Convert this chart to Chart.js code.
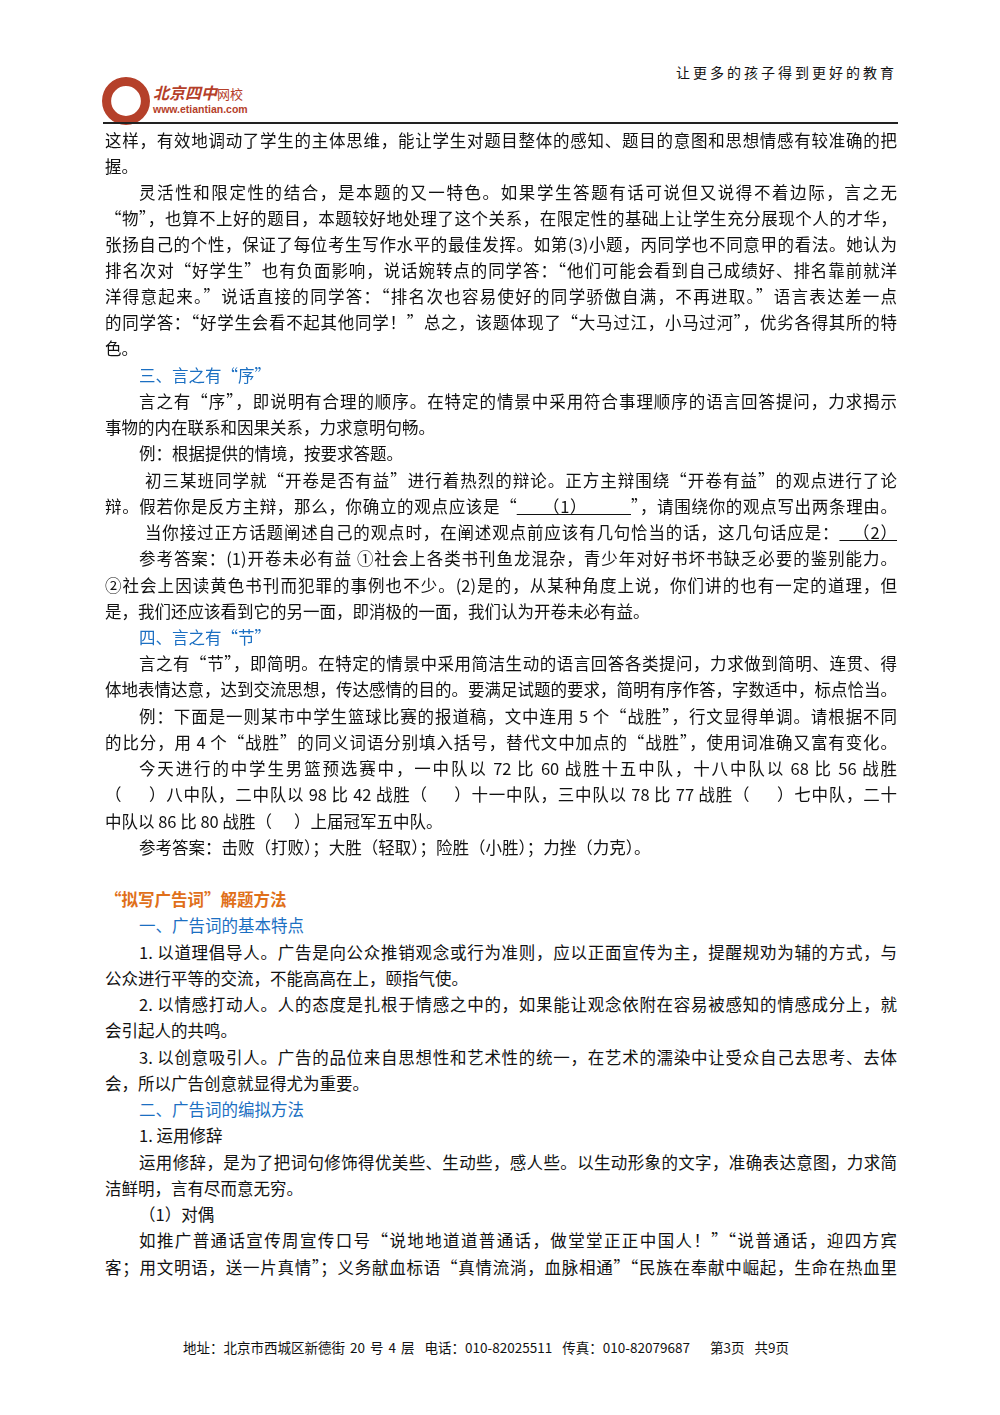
<!DOCTYPE html>
<html><head><meta charset="utf-8">
<script src="https://cdn.jsdelivr.net/npm/chart.js@4"></script>
<style>
body{margin:0;background:#fff;width:1000px;height:1415px;position:relative;font-family:"Noto Sans CJK SC",sans-serif;color:#111;}
.l{position:absolute;left:105px;width:792px;font-size:16.5px;line-height:20px;white-space:nowrap;}
.j{text-align:justify;text-align-last:justify;}
.b{color:#1b6fc2;}
.r{color:#e0701a;font-weight:bold;}
#logo{position:absolute;left:102px;top:77px;width:48px;height:48px;}
</style></head><body>
<div style="position:absolute;right:103px;top:62px;font-size:14px;letter-spacing:3px;">让更多的孩子得到更好的教育</div>
<div id="logo"><canvas id="c"></canvas></div>
<div style="position:absolute;left:153px;top:84px;line-height:16px;color:#b5402a;font-size:16px;font-weight:bold;font-style:italic;">北京四中<span style="font-size:13px;font-weight:normal;font-style:normal">网校</span></div>
<div style="position:absolute;left:153px;top:104px;line-height:11px;color:#b5402a;font-size:10.5px;font-weight:bold;font-family:'Liberation Sans'">www.etiantian.com</div>
<div style="position:absolute;left:103px;top:122px;width:795px;border-top:2px solid #222;"></div>
<div id="body"></div>
<div style="position:absolute;left:183px;top:1337px;font-size:13.5px;word-spacing:2px;">地址：北京市西城区新德街 20 号 4 层 &nbsp;电话：010-82025511 &nbsp;传真：010-82079687 &nbsp;&nbsp;&nbsp;第3页 &nbsp;共9页</div>
<script>
// logo ring segments
const logoParts = ['ring'];
const logoValues = [1];
const logoColors = ['#b5402a'];

// [text, class, top, indent]
const lines = [
 ['这样，有效地调动了学生的主体思维，能让学生对题目整体的感知、题目的意图和思想情感有较准确的把','j',130,0],
 ['握。','',156,0],
 ['灵活性和限定性的结合，是本题的又一特色。如果学生答题有话可说但又说得不着边际，言之无','j',182,34],
 ['“物”，也算不上好的题目，本题较好地处理了这个关系，在限定性的基础上让学生充分展现个人的才华，','j',208,0],
 ['张扬自己的个性，保证了每位考生写作水平的最佳发挥。如第(3)小题，丙同学也不同意甲的看法。她认为','j',234,0],
 ['排名次对“好学生”也有负面影响，说话婉转点的同学答：“他们可能会看到自己成绩好、排名靠前就洋','j',260,0],
 ['洋得意起来。”说话直接的同学答：“排名次也容易使好的同学骄傲自满，不再进取。”语言表达差一点','j',286,0],
 ['的同学答：“好学生会看不起其他同学！”总之，该题体现了“大马过江，小马过河”，优劣各得其所的特','j',312,0],
 ['色。','',338,0],
 ['三、言之有“序”','b',365,34],
 ['言之有“序”，即说明有合理的顺序。在特定的情景中采用符合事理顺序的语言回答提问，力求揭示','j',391,34],
 ['事物的内在联系和因果关系，力求意明句畅。','',417,0],
 ['例：根据提供的情境，按要求答题。','',443,34],
 ['初三某班同学就“开卷是否有益”进行着热烈的辩论。正方主辩围绕“开卷有益”的观点进行了论','j',470,40],
 ['辩。假若你是反方主辩，那么，你确立的观点应该是“<u>&nbsp;&nbsp;&nbsp;&nbsp;&nbsp;&nbsp;（1）&nbsp;&nbsp;&nbsp;&nbsp;&nbsp;&nbsp;&nbsp;&nbsp;&nbsp;&nbsp;</u>”，请围绕你的观点写出两条理由。','j',496,0],
 ['当你接过正方话题阐述自己的观点时，在阐述观点前应该有几句恰当的话，这几句话应是：<u>&nbsp;&nbsp;&nbsp;（2）</u>','j',522,40],
 ['参考答案：(1)开卷未必有益 ①社会上各类书刊鱼龙混杂，青少年对好书坏书缺乏必要的鉴别能力。','j',548,34],
 ['②社会上因读黄色书刊而犯罪的事例也不少。(2)是的，从某种角度上说，你们讲的也有一定的道理，但','j',575,0],
 ['是，我们还应该看到它的另一面，即消极的一面，我们认为开卷未必有益。','',601,0],
 ['四、言之有“节”','b',627,34],
 ['言之有“节”，即简明。在特定的情景中采用简洁生动的语言回答各类提问，力求做到简明、连贯、得','j',653,34],
 ['体地表情达意，达到交流思想，传达感情的目的。要满足试题的要求，简明有序作答，字数适中，标点恰当。','j',679,0],
 ['例：下面是一则某市中学生篮球比赛的报道稿，文中连用 5 个“战胜”，行文显得单调。请根据不同','j',706,34],
 ['的比分，用 4 个“战胜”的同义词语分别填入括号，替代文中加点的“战胜”，使用词准确又富有变化。','j',732,0],
 ['今天进行的中学生男篮预选赛中，一中队以 72 比 60 战胜十五中队，十八中队以 68 比 56 战胜','j',758,34],
 ['（&nbsp;&nbsp;&nbsp;&nbsp;&nbsp;&nbsp;）八中队，二中队以 98 比 42 战胜（&nbsp;&nbsp;&nbsp;&nbsp;&nbsp;&nbsp;）十一中队，三中队以 78 比 77 战胜（&nbsp;&nbsp;&nbsp;&nbsp;&nbsp;&nbsp;）七中队，二十','j',784,0],
 ['中队以 86 比 80 战胜（&nbsp;&nbsp;&nbsp;&nbsp;&nbsp;&nbsp;）上届冠军五中队。','',811,0],
 ['参考答案：击败（打败）；大胜（轻取）；险胜（小胜）；力挫（力克）。','',837,34],
 ['“拟写广告词”解题方法','r',889,0],
 ['一、广告词的基本特点','b',915,34],
 ['1. 以道理倡导人。广告是向公众推销观念或行为准则，应以正面宣传为主，提醒规劝为辅的方式，与','j',942,34],
 ['公众进行平等的交流，不能高高在上，颐指气使。','',968,0],
 ['2. 以情感打动人。人的态度是扎根于情感之中的，如果能让观念依附在容易被感知的情感成分上，就','j',994,34],
 ['会引起人的共鸣。','',1020,0],
 ['3. 以创意吸引人。广告的品位来自思想性和艺术性的统一，在艺术的濡染中让受众自己去思考、去体','j',1047,34],
 ['会，所以广告创意就显得尤为重要。','',1073,0],
 ['二、广告词的编拟方法','b',1099,34],
 ['1. 运用修辞','',1125,34],
 ['运用修辞，是为了把词句修饰得优美些、生动些，感人些。以生动形象的文字，准确表达意图，力求简','j',1152,34],
 ['洁鲜明，言有尽而意无穷。','',1178,0],
 ['（1）对偶','',1204,34],
 ['如推广普通话宣传周宣传口号“说地地道道普通话，做堂堂正正中国人！”“说普通话，迎四方宾','j',1230,34],
 ['客；用文明语，送一片真情”；义务献血标语“真情流淌，血脉相通”“民族在奉献中崛起，生命在热血里','j',1257,0]
];
const body = document.getElementById('body');
lines.forEach(([t, c, top, ind]) => {
  const d = document.createElement('div');
  d.className = 'l ' + c;
  d.style.top = top + 'px';
  d.style.left = (105 + ind) + 'px';
  d.style.width = (792 - ind) + 'px';
  d.innerHTML = t;
  body.appendChild(d);
});

new Chart(document.getElementById('c').getContext('2d'), {
  type: 'doughnut',
  data: { labels: logoParts, datasets: [{ data: logoValues, backgroundColor: logoColors, borderWidth: 0 }] },
  options: { responsive: true, maintainAspectRatio: true, cutout: '62%', animation: false,
    plugins: { legend: { display: false }, tooltip: { enabled: false } } }
});
</script>
</body></html>
